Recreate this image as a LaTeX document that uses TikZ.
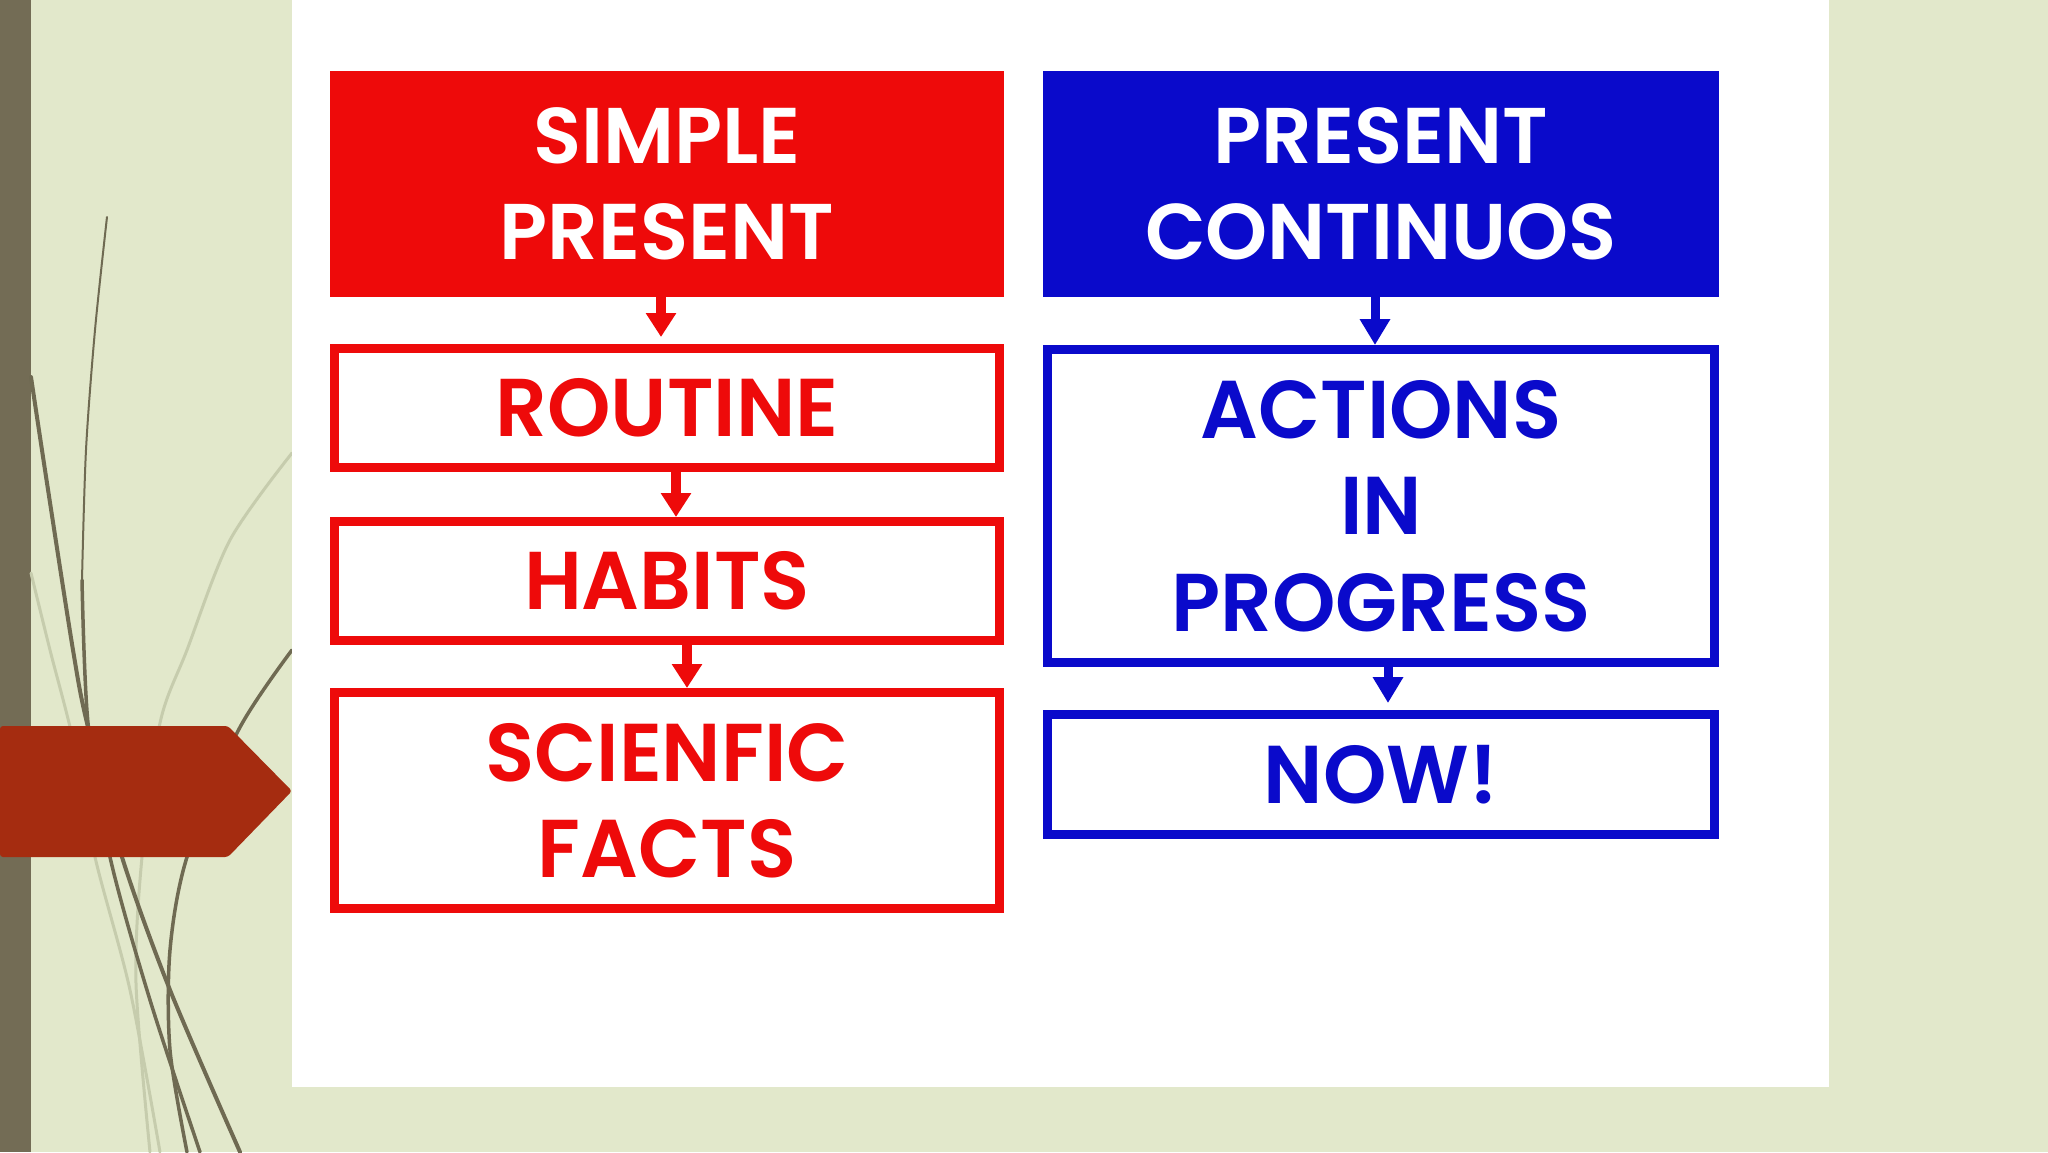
\documentclass[tikz,border=0pt]{standalone}
\usepackage{fontspec}
\setmainfont{Poppins}
\newfontfamily\hdrfont{Poppins SemiBold}[FakeStretch=1.0]
\newfontfamily\boxfont{Poppins SemiBold}[FakeStretch=0.985]
\usetikzlibrary{arrows.meta}
\definecolor{bgc}{HTML}{E2E8CB}
\definecolor{olivebar}{HTML}{736C55}
\definecolor{curvec}{HTML}{6F6A52}
\definecolor{faintc}{HTML}{C6CCAD}
\definecolor{rustc}{HTML}{A52C10}
\definecolor{redc}{HTML}{EE0A0A}
\definecolor{bluec}{HTML}{0A0ACB}
\tikzset{
  hdrbox/.style={rectangle, inner sep=0pt, text=white, font=\hdrfont\fontsize{79}{96.5}\selectfont, align=center},
  redhdr/.style={hdrbox, fill=redc, minimum width=674pt, minimum height=226pt},
  bluehdr/.style={hdrbox, fill=bluec, minimum width=676pt, minimum height=226pt},
  itembox/.style={rectangle, inner sep=0pt, line width=9pt, fill=white, font=\boxfont\fontsize{82}{96.5}\selectfont, align=center},
  reditem/.style={itembox, draw=redc, text=redc, minimum width=665pt},
  blueitem/.style={itembox, draw=bluec, text=bluec, minimum width=667pt},
  redarrow/.style={draw=redc, line width=10pt, -{Triangle[width=29pt,length=24pt]}},
  bluearrow/.style={draw=bluec, line width=9pt, -{Triangle[width=29pt,length=26pt]}},
  decor/.style={draw=curvec, line width=3.5pt, line cap=round},
  faint/.style={draw=faintc, line width=3pt, line cap=round}
}
\begin{document}
\begin{tikzpicture}[x=1pt,y=-1pt]
\useasboundingbox (0,0) rectangle (2048,1152);
% background
\fill[bgc] (0,0) rectangle (2048,1152);
\fill[olivebar] (0,0) rectangle (31,1152);
% decorative curves
\draw[faint] plot[smooth] coordinates {(31,573) (50,650) (73,740) (95,857) (130,990) (160,1152)};
\draw[faint] plot[smooth] coordinates {(292,453) (230,540) (187,650) (160,723) (142,857) (136,983) (150,1152)};
\draw[decor, line width=2pt] plot[smooth] coordinates {(107,217) (95,330) (86,450) (82,580)};
\draw[decor] plot[smooth] coordinates {(82,580) (88,723) (110,857) (150,1000) (200,1152)};
\draw[decor, line width=4pt] plot[smooth] coordinates {(31,377) (47,483) (73,650) (87,723) (122,857) (170,990) (240,1152)};
\draw[decor] plot[smooth] coordinates {(292,650) (238,731) (187,857) (170,950) (170,1050) (187,1152)};
% rust pointer
\fill[rustc, rounded corners=3pt] (0,726) -- (228,726) -- (292,791) -- (228,857) -- (0,857) -- cycle;
% white panel
\fill[white] (292,0) rectangle (1829,1087);
% left column
\node[redhdr] (hdrL) at (667,184) {SIMPLE\\PRESENT};
\node[reditem, minimum height=119pt] (routine) at (667,408) {ROUTINE};
\node[reditem, minimum height=119pt] (habits) at (667,581) {HABITS};
\node[reditem, minimum height=216pt] (facts) at (667,800.5) {SCIENFIC\\FACTS};
% right column
\node[bluehdr] (hdrR) at (1381,184) {PRESENT\\CONTINUOS};
\node[blueitem, minimum height=313pt] (actions) at (1381,506) {ACTIONS\\IN\\PROGRESS};
\node[blueitem, minimum height=120pt] (now) at (1381,774.5) {NOW!};
% connectors
\draw[redarrow] ([xshift=-6pt]hdrL.south) -- ([xshift=-6pt,yshift=7pt]routine.north);
\draw[redarrow] ([xshift=9pt]routine.south) -- ([xshift=9pt]habits.north);
\draw[redarrow] ([xshift=20pt]habits.south) -- ([xshift=20pt]facts.north);
\draw[bluearrow] ([xshift=-6pt]hdrR.south) -- ([xshift=-6pt]actions.north);
\draw[bluearrow] ([xshift=7pt]actions.south) -- ([xshift=7pt,yshift=7pt]now.north);
\end{tikzpicture}
\end{document}
